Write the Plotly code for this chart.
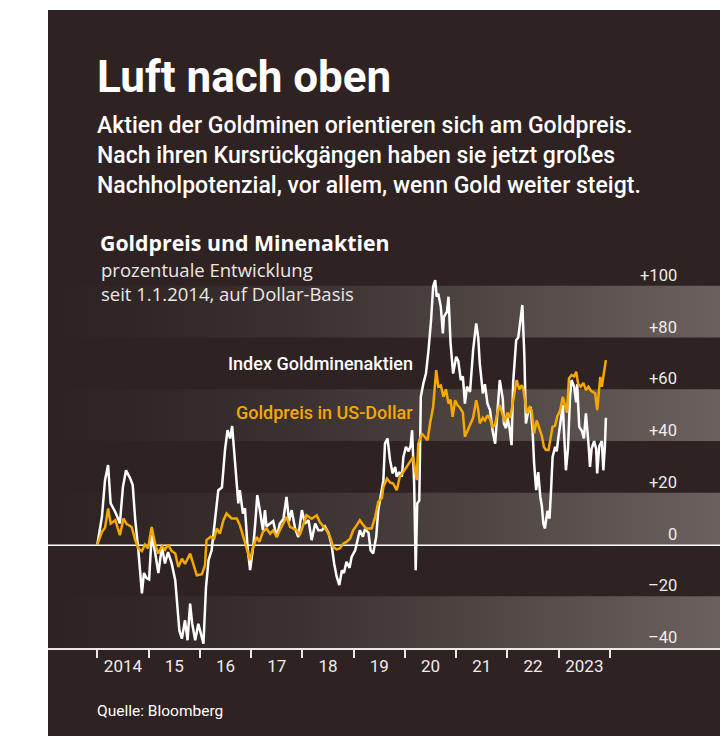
import plotly.graph_objects as go

# ---------------- data (decimal years, % change since 1.1.2014) ----------------
miners_t = [2014.00, 2014.09, 2014.15, 2014.21, 2014.26, 2014.35, 2014.44, 2014.50, 2014.56, 2014.64,
            2014.69, 2014.74, 2014.80, 2014.87, 2014.91, 2014.96, 2015.01, 2015.06, 2015.13, 2015.19,
            2015.26, 2015.32, 2015.38, 2015.45, 2015.52, 2015.56, 2015.60, 2015.65, 2015.71, 2015.76,
            2015.81, 2015.85, 2015.91, 2015.97, 2016.02, 2016.07, 2016.12, 2016.17, 2016.23, 2016.30,
            2016.36, 2016.43, 2016.49, 2016.54, 2016.59, 2016.63, 2016.69, 2016.75, 2016.78, 2016.84,
            2016.88, 2016.93, 2016.98, 2017.04, 2017.08, 2017.12, 2017.17, 2017.23, 2017.27, 2017.30,
            2017.37, 2017.43, 2017.50, 2017.56, 2017.63, 2017.69, 2017.74, 2017.79, 2017.86, 2017.92,
            2017.99, 2018.05, 2018.12, 2018.18, 2018.25, 2018.31, 2018.38, 2018.44, 2018.51, 2018.57,
            2018.62, 2018.67, 2018.72, 2018.77, 2018.81, 2018.86, 2018.92, 2018.96, 2019.03, 2019.07,
            2019.12, 2019.18, 2019.22, 2019.29, 2019.33, 2019.38, 2019.44, 2019.48, 2019.53, 2019.58,
            2019.61, 2019.66, 2019.71, 2019.76, 2019.81, 2019.84, 2019.89, 2019.94, 2019.97, 2020.02,
            2020.07, 2020.11, 2020.14, 2020.18, 2020.21, 2020.24, 2020.28, 2020.31, 2020.36, 2020.41,
            2020.46, 2020.51, 2020.55, 2020.59, 2020.62, 2020.65, 2020.70, 2020.74, 2020.76, 2020.82,
            2020.85, 2020.89, 2020.94, 2021.00, 2021.04, 2021.09, 2021.13, 2021.17, 2021.21, 2021.27,
            2021.33, 2021.39, 2021.43, 2021.46, 2021.52, 2021.56, 2021.61, 2021.66, 2021.71, 2021.76,
            2021.80, 2021.85, 2021.91, 2021.93, 2021.97, 2022.00, 2022.04, 2022.08, 2022.11, 2022.17,
            2022.21, 2022.25, 2022.29, 2022.33, 2022.36, 2022.41, 2022.45, 2022.49, 2022.52, 2022.56,
            2022.60, 2022.64, 2022.67, 2022.70, 2022.73, 2022.78, 2022.82, 2022.85, 2022.88, 2022.93,
            2022.96, 2022.99, 2023.04, 2023.08, 2023.10, 2023.14, 2023.18, 2023.22, 2023.25, 2023.30,
            2023.34, 2023.36, 2023.40, 2023.45, 2023.49, 2023.53, 2023.58, 2023.61, 2023.64, 2023.69,
            2023.73, 2023.75, 2023.79, 2023.84, 2023.87, 2023.90, 2023.92]
miners_v = [0, 10.7, 24.9, 30.7, 15.9, 12.6, 8.2, 22.3, 28.7, 25.6,
            23, 9.4, -2.2, -18.9, -11, -13, -13.5, 3.6, -3.4, -11,
            -0.9, -7.3, -2.9, -7.3, -13.8, -22.8, -33.2, -36.4, -29.3, -37,
            -22.8, -30.6, -37, -30.6, -35, -38.3, -16.4, -6, -2.2, 9.4,
            21, 22, 36.5, 44.2, 41, 45.8, 30, 15.9, 21, 12,
            14, -0.9, -9.9, -0.9, 8.1, 19.1, 13.3, 5.5, 13.3, 7,
            8.1, 9, 2.9, 8.1, 9.9, 18.4, 9, 13.3, 6, 2.9,
            13.3, 8.1, 9.4, 1.7, 8.1, 5.5, 5.5, 7, 4.5, -0.3,
            -7.4, -12.5, -15.7, -10, -11, -6.7, -9, -4.8, -2.2, 1,
            5.5, 3, 6, 4.5, -2.2, -3.5, 3, 13.3, 18.4, 24.9,
            39, 41, 32.6, 27.5, 30, 26.2, 28, 26.2, 33.9, 37.8,
            36, 38, 44.2, 23.6, -9.9, 15.9, 17, 57.1, 62.3, 66.1,
            75.2, 86.8, 99.7, 102.2, 95.8, 97, 91.9, 81.6, 88, 90,
            95.8, 77.8, 66.1, 72.6, 71, 63.6, 65, 54.5, 61, 59,
            75.2, 85.5, 80, 70, 58.4, 62, 54.5, 52, 44, 39,
            50, 63.6, 56, 46.8, 45, 49, 45, 38.4, 62.3, 79,
            80, 86.8, 92.6, 72.6, 46.8, 52, 53.2, 44, 31.3, 21,
            28, 18.4, 15, 8.1, 6.2, 13, 10, 21, 33.9, 37.8,
            36, 41, 49.4, 53.9, 45, 28.7, 37, 57.1, 63.6, 61,
            55, 62, 45.5, 44, 41, 50.7, 39, 30, 37, 40,
            37, 27.5, 38, 40, 28.7, 38, 49]

gold_t = [2014.00, 2014.09, 2014.15, 2014.21, 2014.26, 2014.35, 2014.44, 2014.51, 2014.57, 2014.67,
          2014.74, 2014.80, 2014.87, 2014.93, 2014.99, 2015.06, 2015.13, 2015.19, 2015.26, 2015.32,
          2015.38, 2015.45, 2015.52, 2015.58, 2015.65, 2015.71, 2015.81, 2015.87, 2015.94, 2016.04,
          2016.10, 2016.13, 2016.21, 2016.28, 2016.33, 2016.39, 2016.46, 2016.52, 2016.62, 2016.72,
          2016.78, 2016.85, 2016.91, 2016.98, 2017.04, 2017.11, 2017.16, 2017.23, 2017.30, 2017.37,
          2017.43, 2017.50, 2017.56, 2017.63, 2017.69, 2017.76, 2017.82, 2017.89, 2017.95, 2018.02,
          2018.08, 2018.18, 2018.28, 2018.34, 2018.41, 2018.47, 2018.54, 2018.60, 2018.67, 2018.73,
          2018.80, 2018.86, 2018.93, 2018.99, 2019.06, 2019.12, 2019.19, 2019.25, 2019.35, 2019.42,
          2019.48, 2019.55, 2019.58, 2019.65, 2019.71, 2019.77, 2019.84, 2019.90, 2019.97, 2020.03,
          2020.10, 2020.16, 2020.23, 2020.26, 2020.33, 2020.39, 2020.44, 2020.49, 2020.55, 2020.61,
          2020.65, 2020.70, 2020.75, 2020.80, 2020.85, 2020.89, 2020.93, 2020.98, 2021.02, 2021.07,
          2021.13, 2021.17, 2021.22, 2021.27, 2021.33, 2021.39, 2021.43, 2021.46, 2021.52, 2021.56,
          2021.61, 2021.66, 2021.71, 2021.76, 2021.80, 2021.85, 2021.91, 2021.95, 2022.00, 2022.05,
          2022.08, 2022.13, 2022.18, 2022.23, 2022.28, 2022.31, 2022.34, 2022.38, 2022.43, 2022.47,
          2022.52, 2022.57, 2022.62, 2022.67, 2022.71, 2022.75, 2022.80, 2022.84, 2022.88, 2022.93,
          2022.97, 2023.03, 2023.08, 2023.12, 2023.16, 2023.20, 2023.25, 2023.30, 2023.34, 2023.38,
          2023.43, 2023.48, 2023.53, 2023.58, 2023.62, 2023.66, 2023.71, 2023.75, 2023.81, 2023.84,
          2023.88, 2023.92]
gold_v = [0, 4.9, 6.5, 13.9, 8.1, 9.4, 3.6, 10.1, 8, 6.8,
          1.7, -1.5, -2.5, 0, -1.5, 6.8, 0, -3.5, -0.5, -2,
          0, -2.5, -3.5, -8.7, -5.5, -7.5, -3.5, -7.5, -11.9, -11.5,
          -8, 1.7, 3, 2.3, 6.2, 4.2, 9.4, 12, 10.1, 10.1,
          7.5, 2.9, -0.9, -6.1, -0.9, 2.9, 1, 4.9, 6.2, 4.2,
          5.5, 2.9, 5.5, 8.1, 10.7, 6.8, 6.2, 5.5, 3.6, 8.1,
          11.3, 10, 11.3, 8.7, 6.8, 5.5, 2.9, -0.9, -1.9, -1.5,
          0.4, 1, 2.3, 5.5, 7.5, 9.4, 7.5, 6.2, 6.2, 10.7,
          16.5, 18, 22.3, 25.5, 24, 23.6, 21, 26.2, 28.1, 30,
          32, 33.9, 24.9, 39, 42.9, 41.5, 40.3, 46.8, 53.2, 67.4,
          61, 61.5, 57.1, 60, 54.5, 56, 49.4, 55.8, 54, 53,
          51, 41.7, 44, 46, 49, 55.8, 52, 46.8, 49, 48,
          50, 48.5, 45.5, 46.5, 50.7, 53.9, 50, 47.4, 51, 49,
          52, 57.1, 63.6, 60, 61.6, 60, 55.8, 50.7, 53, 52,
          42.9, 48, 45, 42, 37.8, 36.5, 36.5, 41, 45.5, 46,
          49.4, 52, 57.1, 54, 51, 64.2, 65.5, 65, 66.8, 62,
          61, 62.5, 59.7, 61, 59.7, 59, 58.5, 52, 64.8, 61,
          66, 71.3]

year_ticks = list(range(2014, 2025))
year_label_pos = [y + 0.5 for y in range(2014, 2024)]
year_labels = ["2014", "15", "16", "17", "18", "19", "20", "21", "22", "2023"]
y_ticks = [-40, -20, 0, 20, 40, 60, 80, 100]
y_labels = ["–40", "–20", "0", "+20", "+40", "+60", "+80", "+100"]
bands = [(80, 100), (40, 60), (0, 20), (-40, -20)]

# ---------------- styling ----------------
BG = "#2e2222"
ORANGE = "#f5a800"
WHITE = "#ffffff"
X_RANGE = [2013.038, 2026.204]
Y_RANGE = [-40, 110]
FONT = "Roboto"
WIDE = "Open Sans"

fig = go.Figure()

band_scale = [[0, BG], [0.12, "#312626"], [0.37, "#3b3130"], [0.62, "#4d4341"], [1, "#6b615e"]]
for y0, y1 in bands:
    fig.add_trace(go.Scatter(
        x=[X_RANGE[0], X_RANGE[1], X_RANGE[1], X_RANGE[0], X_RANGE[0]],
        y=[y0, y0, y1, y1, y0],
        mode="none", fill="toself",
        fillgradient=dict(type="horizontal", colorscale=band_scale,
                          start=X_RANGE[0], stop=X_RANGE[1]),
        hoverinfo="skip", showlegend=False))

fig.add_trace(go.Scatter(x=miners_t, y=miners_v, mode="lines",
                         line=dict(color=WHITE, width=2.5), name="Index Goldminenaktien",
                         showlegend=False))
fig.add_trace(go.Scatter(x=gold_t, y=gold_v, mode="lines",
                         line=dict(color=ORANGE, width=2.5), name="Goldpreis in US-Dollar",
                         showlegend=False))

# helpers: screen-pixel position -> paper fraction (plot area: x 48..723, y 260..648)
H_PLOT = 388.0
def px_y(py):
    return (648 - py) / H_PLOT
def px_x(px):
    return (px - 48) / 675.0

# dark background panel
fig.add_shape(type="rect", xref="paper", yref="paper", x0=0, x1=1,
              y0=px_y(740), y1=px_y(10), fillcolor=BG, line_width=0, layer="below")

ann = []
ann.append(dict(text="<b>Luft nach oben</b>", x=px_x(95), y=px_y(77),
                font=dict(family=FONT, size=44, color=WHITE)))
ann.append(dict(text="Aktien der Goldminen orientieren sich am Goldpreis.<br>"
                     "Nach ihren Kursrückgängen haben sie jetzt großes<br>"
                     "Nachholpotenzial, vor allem, wenn Gold weiter steigt.",
                x=px_x(95), y=px_y(155.5), align="left",
                font=dict(family=FONT, size=23, color=WHITE, weight=500)))
ann.append(dict(text="<b>Goldpreis und Minenaktien</b>", x=px_x(98), y=px_y(243),
                font=dict(family=WIDE, size=21.3, color=WHITE)))
ann.append(dict(text="prozentuale Entwicklung<br>seit 1.1.2014, auf Dollar-Basis",
                x=px_x(99), y=px_y(281), align="left",
                font=dict(family=WIDE, size=18.5, color="#ebe7e5", weight=400)))
ann.append(dict(text="Index Goldminenaktien", x=px_x(415), y=px_y(363), xanchor="right",
                font=dict(family=FONT, size=18, color=WHITE, weight=500)))
ann.append(dict(text="Goldpreis in US-Dollar", x=px_x(415), y=px_y(412), xanchor="right",
                font=dict(family=FONT, size=18, color=ORANGE, weight=500)))
ann.append(dict(text="Quelle: Bloomberg", x=px_x(95), y=px_y(711),
                font=dict(family=FONT, size=15.5, color=WHITE)))
for a in ann:
    a.setdefault("xanchor", "left")
    a.update(xref="paper", yref="paper", yanchor="middle", showarrow=False)

# y-axis labels sitting just above each band edge, right-aligned
for v, lab in zip(y_ticks, y_labels):
    ann.append(dict(text=lab, x=px_x(679), xref="paper", y=v, yref="y",
                    xanchor="right", yanchor="middle", yshift=10.5, showarrow=False,
                    font=dict(family=FONT, size=16.5, color="#f0ecea")))

fig.update_layout(
    width=720, height=728,
    margin=dict(l=40, r=5, t=252, b=88),
    paper_bgcolor="white", plot_bgcolor=BG,
    annotations=ann,
    showlegend=False,
    xaxis=dict(range=X_RANGE, showgrid=False, zeroline=False,
               showline=True, linecolor="#ece8e6", linewidth=2,
               tickmode="array", tickvals=year_label_pos, ticktext=year_labels,
               ticks="", tickfont=dict(family=FONT, size=17, color="#f0ecea"),
               ticklabelstandoff=2,
               minor=dict(tickmode="array", tickvals=year_ticks, ticks="outside",
                          ticklen=8, tickwidth=1.5, tickcolor="#ece8e6", showgrid=False)),
    yaxis=dict(range=Y_RANGE, showgrid=False, zeroline=True, zerolinecolor=WHITE,
               zerolinewidth=2, showline=False, showticklabels=False, ticks=""),
)

fig.write_html("out.html")
